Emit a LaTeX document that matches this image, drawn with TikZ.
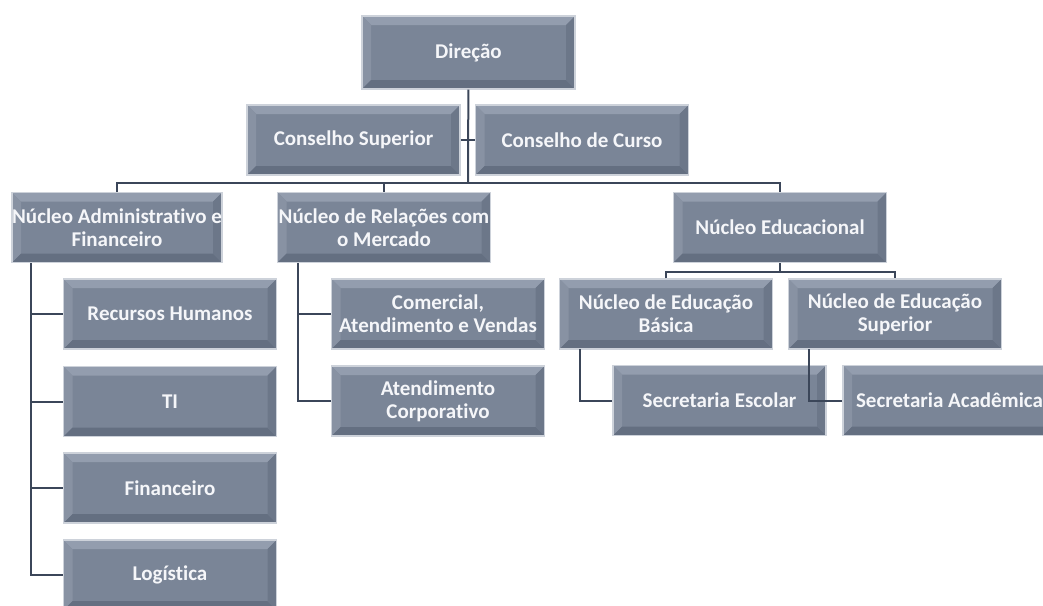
\documentclass[tikz,border=0pt]{standalone}
\usepackage{fontspec}
\setmainfont[Ligatures=NoCommon]{Carlito}
\definecolor{face}{HTML}{7A8597}
\definecolor{bevtop}{HTML}{939DAE}
\definecolor{bevleft}{HTML}{8892A3}
\definecolor{bevbottom}{HTML}{646F81}
\definecolor{bevright}{HTML}{6C7789}
\definecolor{rim}{HTML}{CDD2DA}
\definecolor{wire}{HTML}{3B4659}
\definecolor{label}{HTML}{F5F6F9}
\begin{document}
\begin{tikzpicture}
		[x=1pt,y=-1pt,
		box/.style={rectangle,draw=rim,line width=1.2pt,fill=face,minimum width=213pt,minimum height=70pt,
			inner sep=0pt,align=center,text=label,font=\fontsize{21}{23}\selectfont\bfseries,
			path picture={
				\fill[bevtop] (path picture bounding box.north west) -- (path picture bounding box.north east)
				-- ([shift={(-9pt,-9pt)}]path picture bounding box.north east) -- ([shift={(9pt,-9pt)}]path picture bounding box.north west) -- cycle;
				\fill[bevleft] (path picture bounding box.north west) -- (path picture bounding box.south west)
				-- ([shift={(9pt,9pt)}]path picture bounding box.south west) -- ([shift={(9pt,-9pt)}]path picture bounding box.north west) -- cycle;
				\fill[bevbottom] (path picture bounding box.south west) -- (path picture bounding box.south east)
				-- ([shift={(-9pt,9pt)}]path picture bounding box.south east) -- ([shift={(9pt,9pt)}]path picture bounding box.south west) -- cycle;
				\fill[bevright] (path picture bounding box.north east) -- (path picture bounding box.south east)
				-- ([shift={(-9pt,9pt)}]path picture bounding box.south east) -- ([shift={(-9pt,-9pt)}]path picture bounding box.north east) -- cycle;
			}},
		wire/.style={draw=wire,line width=2pt}]
		\clip (0,0) rectangle (1043,605);
		\node[box,name=dir,minimum height=73pt]at(468.5,52.5){Direção};
		\node[box,name=csup]at(353.5,140){Conselho Superior};
		\node[box,name=ccur]at(582,140){Conselho de Curso};
		\node[box,name=nadm,minimum width=210pt]at(117,227.5){Núcleo Administrativo e\\Financeiro};
		\node[box,name=nrel]at(384,227.5){Núcleo de Relações com\\o Mercado};
		\node[box,name=nedu]at(780,227.5){Núcleo Educacional};
		\node[box,name=rh]at(170,314){Recursos Humanos};
		\node[box,name=ti]at(170,401.5){TI};
		\node[box,name=fin]at(170,488){Financeiro};
		\node[box,name=log]at(170,575){Logística};
		\node[box,name=com]at(438,314){Comercial,\\Atendimento e Vendas};
		\node[box,name=atc]at(438,401){Atendimento\\Corporativo};
		\node[box,name=nbas]at(666,314){Núcleo de Educação\\Básica};
		\node[box,name=nsup]at(895,314){Núcleo de Educação\\Superior};
		\node[box,name=sesc]at(719.5,400.5){Secretaria Escolar};
		\node[box,name=saca]at(949.5,400.5){Secretaria Acadêmica};
		\coordinate (bus) at (468,183);
		\coordinate (admspine) at (31,263);
		\coordinate (relspine) at (298,263);
		\coordinate (edubus) at (780,272);
		\coordinate (basspine) at (580,349);
		\coordinate (supspine) at (809,349);
		\draw[wire] (dir) -- (bus);
		\draw[wire] (csup) -- (ccur);
		\draw[wire] (nadm.north) |- (bus) -| (nedu.north);
		\draw[wire] (nrel.north) -- (nrel.north |- bus);
		\draw[wire] (admspine) |- (log.west);
		\draw[wire] (admspine) |- (rh.west);
		\draw[wire] (admspine) |- (ti.west);
		\draw[wire] (admspine) |- (fin.west);
		\draw[wire] (relspine) |- (atc.west);
		\draw[wire] (relspine) |- (com.west);
		\draw[wire] (nedu) -- (edubus);
		\draw[wire] (nbas.north) |- (edubus) -| (nsup.north);
		\draw[wire] (basspine) |- (sesc.west);
		\draw[wire] (supspine) |- (saca.west);
	\end{tikzpicture}
\end{document}
